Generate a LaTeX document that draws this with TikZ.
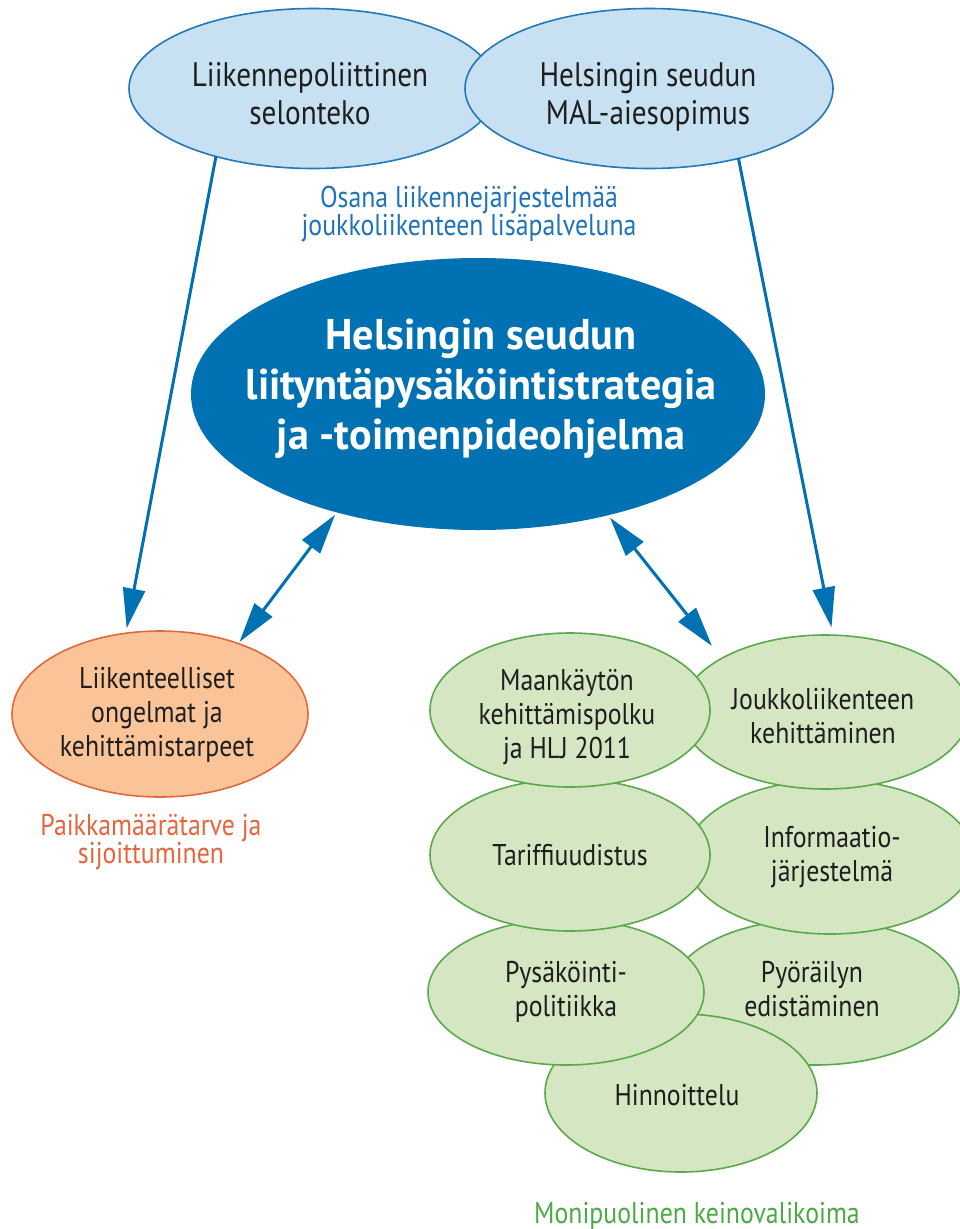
\documentclass[tikz,border=0pt]{standalone}
\usepackage{fontspec}
\setmainfont{PT Sans}[FakeStretch=0.86]
\newfontfamily\bigfnt{PT Sans}[FakeStretch=0.98]
\usetikzlibrary{shapes.geometric,arrows.meta}
\definecolor{lblue}{RGB}{200,225,242}
\definecolor{bline}{RGB}{35,120,185}
\definecolor{dblue}{RGB}{0,113,178}
\definecolor{osanac}{RGB}{30,115,185}
\definecolor{orfill}{RGB}{250,196,152}
\definecolor{orline}{RGB}{225,105,60}
\definecolor{ortext}{RGB}{232,100,60}
\definecolor{grfill}{RGB}{213,230,195}
\definecolor{grline}{RGB}{90,170,75}
\definecolor{grtext}{RGB}{75,170,70}
\definecolor{txt}{RGB}{30,30,30}
\tikzset{
  ell/.style={ellipse, inner sep=0pt, outer sep=0pt},
  topell/.style={ell, fill=lblue, draw=bline, line width=1.6pt, minimum width=368pt, minimum height=160pt},
  mainell/.style={ell, fill=dblue, minimum width=574pt, minimum height=272pt},
  orell/.style={ell, fill=orfill, draw=orline, line width=1.6pt, minimum width=296pt, minimum height=166pt},
  grell/.style={ell, fill=grfill, draw=grline, line width=1.6pt},
  toptxt/.style={inner sep=0pt, align=center, text=txt, font=\fontsize{34}{38}\selectfont},
  maintxt/.style={inner sep=0pt, align=center, text=white, font=\bigfnt\fontsize{43}{50}\selectfont\bfseries},
  smalltxt/.style={inner sep=0pt, align=center, text=txt, font=\fontsize{30}{34}\selectfont},
  captxt/.style={inner sep=0pt, align=center, font=\fontsize{30}{27}\selectfont},
  tip/.style={Triangle[length=40pt,width=22pt]},
  arr/.style={draw=dblue, line width=3pt, -{Triangle[length=40pt,width=22pt]}},
  dbl/.style={draw=dblue, line width=3pt, {Triangle[length=40pt,width=22pt]}-{Triangle[length=40pt,width=22pt]}}
}
\begin{document}
\begin{tikzpicture}[x=1pt,y=-1pt]
\useasboundingbox[fill=white] (0,0) rectangle (960,1229);
% top ellipses
\node[topell] (tl) at (313,88.5) {};
\node[topell] (tr) at (649,88.5) {};
\node[toptxt] (tltxt) at (310,94) {Liikennepoliittinen\\selonteko};
\node[toptxt] (trtxt) at (648,97) {Helsingin seudun\\MAL-aiesopimus};
\node[captxt, text=osanac] (osana) at (469,214) {Osana liikennejärjestelmää\\joukkoliikenteen lisäpalveluna};
% central
\node[mainell] (main) at (478,394) {};
\node[maintxt] (maintext) at (481,389) {Helsingin seudun\\liityntäpysäköintistrategia\\ja -toimenpideohjelma};
% orange
\node[orell] (orl) at (160,714) {};
\node[smalltxt] (orltxt) at (157,715) {Liikenteelliset\\ongelmat ja\\kehittämistarpeet};
\node[captxt, text=ortext] (paikka) at (151,842) {Paikkamäärätarve ja\\sijoittuminen};
% green cluster (back to front)
\node[grell, minimum width=288pt, minimum height=146pt] (F) at (815,992) {};
\node[grell, minimum width=272pt, minimum height=158pt] (G) at (681,1093) {};
\node[grell, minimum width=276pt, minimum height=146pt] (E) at (566,992) {};
\node[grell, minimum width=288pt, minimum height=154pt] (D) at (830,857) {};
\node[grell, minimum width=280pt, minimum height=152pt] (B) at (570,855) {};
\node[grell, minimum width=288pt, minimum height=154pt] (C) at (825,712) {};
\node[grell, minimum width=280pt, minimum height=154pt] (A) at (570,710) {};
\node[smalltxt] (Atxt) at (567,717) {Maankäytön\\kehittämispolku\\ja HLJ 2011};
\node[smalltxt, anchor=base] (Btxt) at (570,865) {Tariffiuudistus};
\node[smalltxt] (Ctxt) at (823,716) {Joukkoliikenteen\\kehittäminen};
\node[smalltxt] (Dtxt) at (832,857) {Informaatio-\\järjestelmä};
\node[smalltxt] (Etxt) at (566,992) {Pysäköinti-\\politiikka};
\node[smalltxt] (Ftxt) at (812,989) {Pyöräilyn\\edistäminen};
\node[smalltxt, anchor=base] (Gtxt) at (677,1105) {Hinnoittelu};
\node[captxt, text=grtext, anchor=base] (moni) at (697,1223) {Monipuolinen keinovalikoima};
% connectors
\coordinate (rtip) at (712,646);
\draw[arr, shorten >=5pt] (tl.215.5) -- (orl.113.6);
\draw[arr, shorten >=8pt] (tr.322) -- (C.84.7);
\draw[dbl, shorten <=3pt, shorten >=2pt] (main.220.7) -- (orl.42);
\draw[dbl, shorten <=3pt] (main.317.8) -- (rtip);
\end{tikzpicture}
\end{document}
